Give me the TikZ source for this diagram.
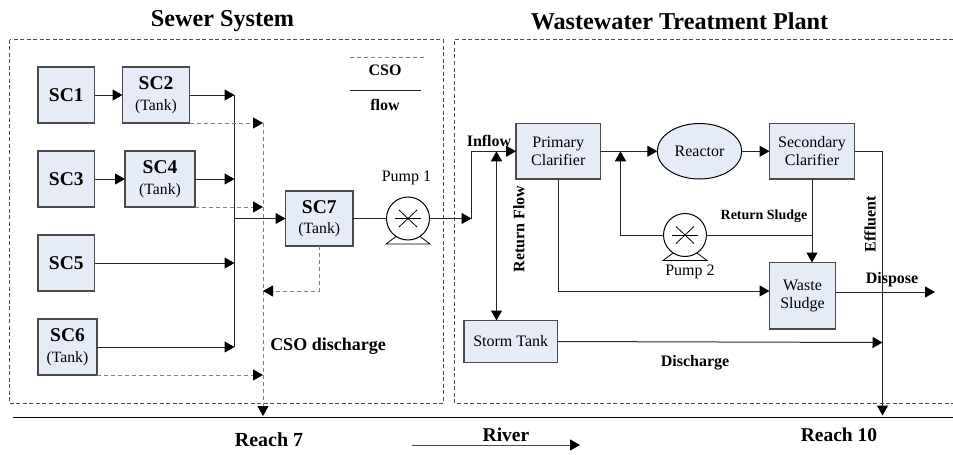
\documentclass[tikz,border=0pt]{standalone}
\usepackage{fontspec}
\setmainfont{Liberation Serif}
\usetikzlibrary{arrows.meta,shapes.geometric}
\newcommand\pxf[2][1.15]{\fontsize{#2}{#1\dimexpr#2pt\relax}\selectfont}
\definecolor{boxfill}{HTML}{E6ECF7}
\definecolor{boxline}{HTML}{4A4A4A}
\tikzset{
  x=1pt,y=-1pt,
  tri/.style={-{Triangle[length=10pt,width=11pt,color=black]}},
  flowline/.style={line width=1pt,color=black!85},
  flowarrow/.style={flowline,tri},
  csoline/.style={line width=1pt,color=black!50,dash pattern=on 4pt off 3pt},
  csoarrow/.style={csoline,tri},
  region/.style={line width=.7pt,color=black!70,dash pattern=on 4pt off 2.5pt},
  boxnode/.style={draw=boxline,fill=boxfill,line width=1.2pt,inner sep=0,outer sep=0,align=center,anchor=north west},
  sc/.style={boxnode,font=\bfseries\pxf[1.1]{19.5}},
  wwt/.style={boxnode,font=\pxf{16}},
  lab/.style={inner sep=0,font=\bfseries\pxf{16}},
  plain/.style={inner sep=0,font=\pxf{16}},
  pumpnode/.style={circle,draw=black,line width=1pt,minimum size=43pt,inner sep=0,outer sep=0,fill=white},
  crossline/.style={line width=.8pt,color=black},
}
\begin{document}
\begin{tikzpicture}
\useasboundingbox (0,0) rectangle (953,455);
% titles
\node[lab,font=\bfseries\pxf{24.2}] (t1) at (222.5,21) {Sewer System};
\node[lab,font=\bfseries\pxf{24.2}] (t2) at (679.5,21) {Wastewater Treatment Plant};
% regions
\draw[region] (953,39.5) -- (454.5,39.5) -- (454.5,403) -- (953,403);
\draw[region] (9.5,39.5) rectangle (443,403);
% legend
\coordinate (lg1a) at (350,57); \coordinate (lg1b) at (424,57);
\coordinate (lg2a) at (350,90.5); \coordinate (lg2b) at (421,90.5);
\draw[csoline] (lg1a) -- (lg1b);
\draw[flowline] (lg2a) -- (lg2b);
\node[lab] (lgc) at (385,70) {CSO};
\node[lab] (lgf) at (385,105) {flow};
% sewer boxes
\node[sc,minimum width=56.5pt,minimum height=56pt] (sc1) at (38,67) {SC1};
\node[sc,minimum width=67pt,minimum height=56pt] (sc2) at (122.5,67) {SC2\\[-1pt]{\normalfont\pxf{15.7}(Tank)}};
\node[sc,minimum width=56.5pt,minimum height=56pt] (sc3) at (38,151) {SC3};
\node[sc,minimum width=70pt,minimum height=56pt] (sc4) at (125,151) {SC4\\[-1pt]{\normalfont\pxf{15.7}(Tank)}};
\node[sc,minimum width=56.5pt,minimum height=56pt] (sc5) at (38,235) {SC5};
\node[sc,minimum width=59pt,minimum height=56pt] (sc6) at (38,319) {SC6\\[-1pt]{\normalfont\pxf{15.7}(Tank)}};
\node[sc,minimum width=67.5pt,minimum height=55pt] (sc7) at (285.5,191) {SC7\\[-1pt]{\normalfont\pxf{15.7}(Tank)}};
% buses
\coordinate (bustop) at (234.5,95);
\coordinate (bus4) at (234.5,179);
\coordinate (bus5) at (234.5,263);
\coordinate (busbot) at (234.5,347);
\coordinate (busout) at (234.5,218.5);
\coordinate (dtop) at (263,123);
\coordinate (d4) at (263,207);
\coordinate (d7) at (263,291);
\coordinate (d6) at (263,375);
\coordinate (dbot) at (263,416);
\draw[flowline] (bustop) -- (busbot);
\draw[csoline] (dtop) -- (dbot);
\draw[flowarrow] (sc1) -- (sc2);
\draw[flowarrow] (sc3) -- (sc4);
\draw[flowarrow] (sc2.east) -- (bustop);
\draw[flowarrow] (sc4.east) -- (bus4);
\draw[flowarrow] (sc5.east) -- (bus5);
\draw[flowarrow] (sc6.east) -- (busbot);
\draw[flowarrow] (busout) -- (sc7.west);
\draw[csoarrow] (sc2.south east) -- (dtop);
\draw[csoarrow] (sc4.south east) -- (d4);
\draw[csoarrow] (sc6.south east) -- (d6);
\draw[csoarrow] (sc7.south) |- (d7);
\draw[csoarrow] (d6) -- (dbot);
\node[lab,font=\bfseries\pxf{18}] (csod) at (328,346) {CSO discharge};
% river
\coordinate (rl) at (12.5,417); \coordinate (rr) at (953,417);
\draw[line width=1pt,color=black] (rl) -- (rr);
\coordinate (ra) at (412,445); \coordinate (rb) at (580,445);
\draw[flowarrow,color=black!70] (ra) -- (rb);
\node[lab,font=\bfseries\pxf{20}] (r7) at (269,440) {Reach 7};
\node[lab,font=\bfseries\pxf{19.5}] (riv) at (506,435) {River};
\node[lab,font=\bfseries\pxf{19.5}] (r10) at (839,435) {Reach 10};
% WWTP nodes
\node[wwt,minimum width=84.5pt,minimum height=55.5pt] (pc) at (516,123.5) {Primary\\Clarifier};
\node[draw=black,fill=boxfill,line width=1pt,ellipse,inner sep=0,outer sep=0,minimum width=84.5pt,minimum height=55.5pt,font=\pxf{16}] (re) at (699.5,151.25) {Reactor};
\node[wwt,minimum width=85pt,minimum height=55.5pt] (sec) at (769.5,123.5) {Secondary\\Clarifier};
\node[wwt,minimum width=66pt,minimum height=66.5pt] (ws) at (769.5,262.5) {Waste\\Sludge};
\node[wwt,minimum width=93.5pt,minimum height=42pt] (st) at (464,320.5) {Storm Tank};
% pumps
\node[pumpnode] (p1) at (408,218.5) {};
\node[pumpnode] (p2) at (685,235) {};
\foreach \p in {p1,p2}{
  \draw[crossline] ([shift={(-9,-8.5)}]\p.center) -- ([shift={(9,8.5)}]\p.center);
  \draw[crossline] ([shift={(-9,8.5)}]\p.center) -- ([shift={(9,-8.5)}]\p.center);
  \draw[crossline] ([shift={(-13,0)}]\p.center) -- ([shift={(13,0)}]\p.center);
  \draw[crossline] ([shift={(-12,18)}]\p.center) -- ([shift={(-22,25.5)}]\p.center) -- ([shift={(22,25.5)}]\p.center) -- ([shift={(12,18)}]\p.center);
}
\node[plain] (p1l) at (406.5,178) {Pump 1};
\node[plain] (p2l) at (690,272) {Pump 2};
% WWTP connectors
\coordinate (inlow) at (471.5,218.5);
\coordinate (intop) at (471.5,151.25);
\coordinate (rfp) at (496.5,151.25);
\coordinate (retp) at (620.5,151.25);
\coordinate (retc) at (620.5,235);
\coordinate (j2) at (812,235);
\coordinate (c1) at (558.5,291);
\coordinate (ef1) at (882.5,151.25);
\coordinate (ef2) at (882.5,415.5);
\coordinate (ef3) at (882.5,342.5);
\coordinate (disp) at (935,292);
\draw[flowline] (sc7.east) -- (p1.west);
\draw[flowarrow] (p1.east) -- (inlow);
\draw[flowarrow] (inlow) -- (intop) -- (pc.west);
\draw[flowarrow,{Triangle[length=10pt,width=11pt,color=black]}-{Triangle[length=10pt,width=11pt,color=black]}] (rfp) -- (rfp|-st.north);
\draw[flowarrow] (pc.east) -- (re.west);
\draw[flowarrow] (re.east) -- (sec.west);
\draw[flowarrow] (p2.west) -- (retc) -- (retp);
\draw[flowline] (p2.east) -- (j2);
\draw[flowarrow] (sec.south -| j2) -- (j2|-ws.north);
\draw[flowarrow] (pc.south-|c1) -- (c1) -- (c1-|ws.west);
\draw[flowarrow] (sec.east) -- (ef1) -- (ef2);
\draw[flowarrow] (st.east) -- (ef3);
\draw[flowarrow] (ws.east|-disp) -- (disp);
% labels
\node[lab] (lin) at (489,141) {Inflow};
\node[lab] (ldis) at (695,363) {Discharge};
\node[lab] (ldsp) at (892,280) {Dispose};
\node[lab,font=\bfseries\pxf{14}] (lrs) at (764,216) {Return Sludge};
\node[lab,rotate=90] (lrf) at (519,229) {Return Flow};
\node[lab,rotate=90] (lef) at (870,224) {Effluent};
\end{tikzpicture}
\end{document}
